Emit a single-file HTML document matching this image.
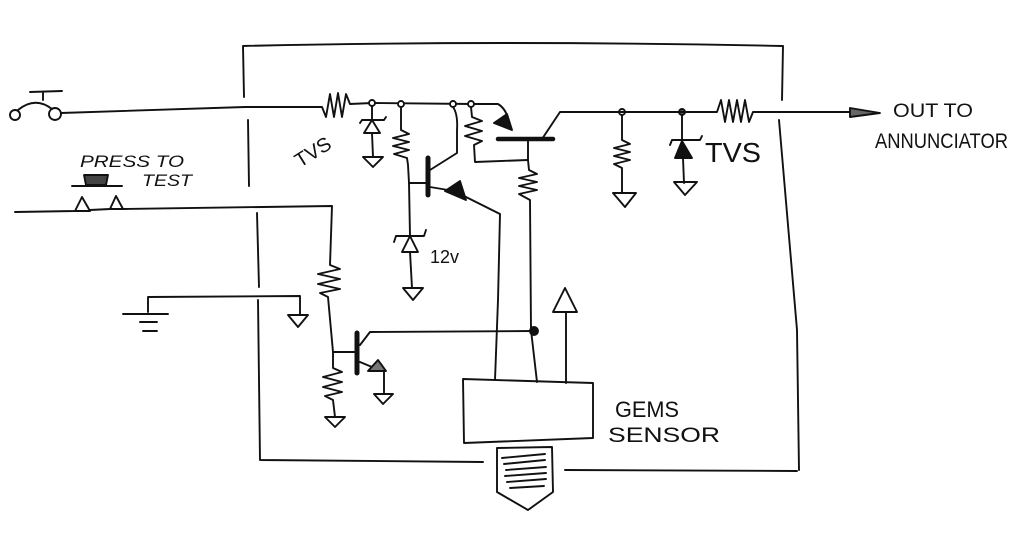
<!DOCTYPE html>
<html><head><meta charset="utf-8"><style>
html,body{margin:0;padding:0;background:#fff;}
svg{display:block;}
text{font-family:"Liberation Sans",sans-serif;fill:#111;}
</style></head><body>
<svg width="1024" height="544" viewBox="0 0 1024 544" xmlns="http://www.w3.org/2000/svg">
<g fill="none" stroke="#111" stroke-width="1.9" stroke-linecap="round" stroke-linejoin="round">
<!-- outer box -->
<path d="M244,97 L243,46 Q500,40 783,46 L782,100"/>
<path d="M248,120 L249,186"/>
<path d="M257,213 L259,287"/>
<path d="M258,300 L260,460 L483,462"/>
<path d="M779,120 Q790,250 797,330 L799,470"/>
<path d="M565,470 L797,471"/>

<!-- switch -->
<circle cx="15" cy="115" r="5"/>
<circle cx="55" cy="114" r="6"/>
<path d="M18,110 Q35,96 52,109"/>
<path d="M43,100 L43,92 M30,92 L62,91"/>

<!-- main wire + R1 -->
<path d="M61,113 L245,107 L322,107 L326,117 L330,94 L334,117 L338,93 L342,117 L346,94 L350,104 L372,103 L472,104 L498,104 Q505,108 508,118"/>
<!-- nodes -->
<circle cx="372" cy="103" r="3" fill="#fff"/>
<circle cx="401" cy="104" r="3" fill="#fff"/>
<circle cx="453" cy="104" r="3" fill="#fff"/>
<circle cx="471" cy="104" r="3" fill="#fff"/>
<circle cx="622" cy="112" r="3" fill="#fff"/>
<circle cx="682" cy="112" r="3" fill="#555"/>

<!-- TVS1 -->
<path d="M372,106 L372,120 M360,123 L362,120 L384,120 L386,117 M372,120 L364,133 L380,133 Z M372,133 L373,157"/>
<path d="M363,157 L383,157 L373,167 Z"/>

<!-- R2 + zener -->
<path d="M401,107 L401,130 L409,134 L393,138 L409,142 L393,146 L409,150 L394,154 L407,158 L408,165 L409,183 L410,236"/>
<path d="M394,242 L396,236 L424,236 L426,230 M410,236 L402,252 L418,252 Z M410,252 L412,288"/>
<path d="M403,288 L423,288 L413,300 Z"/>

<!-- Q1 -->
<path d="M453,107 Q458,114 457,130 L457,153 L430,170"/>
<path d="M428,158 L428,195" stroke-width="5"/>
<path d="M409,183 L428,183"/>
<path d="M430,187 L448,190"/>
<path d="M445,191 L460,181 L466,200 Z" fill="#111"/>
<path d="M462,195 L500,214 L498,300 L495,380"/>

<!-- R3 -->
<path d="M471,107 L472,117 L482,121 L465,126 L482,131 L465,136 L482,141 L474,145 L475,162 L528,160"/>

<!-- Q2 -->
<path d="M494,123 L507,114 L512,130 Z" fill="#111"/>
<path d="M498,139 L553,139" stroke-width="4.5"/>
<path d="M542,139 L560,112 L622,112 L717,112 L721,100 L725,122 L729,100 L733,122 L737,100 L741,122 L745,100 L749,122 L753,112 L850,112"/>
<path d="M850,108 L880,113 L850,117 Z" fill="#666"/>
<path d="M528,140 L528,160 L529,170 L537,174 L519,178 L537,182 L519,186 L537,190 L519,194 L530,200 L531,330 L537,382"/>
<circle cx="534" cy="331" r="4" fill="#111"/>

<!-- R6 -->
<path d="M622,115 L622,140 L630,144 L614,148 L630,152 L614,156 L630,160 L614,164 L622,168 L622,193"/>
<path d="M613,193 L636,193 L625,207 Z"/>

<!-- TVS2 -->
<path d="M682,115 L682,140 M670,145 L672,140 L700,140 L702,136"/>
<path d="M682,141 L675,158 L692,158 Z" fill="#111"/>
<path d="M683,158 L684,183"/>
<path d="M674,182 L697,182 L685,195 Z"/>

<!-- test wire -->
<path d="M15,212 L75,211 M75,211 L82,197 L90,211 Z M90,210 L110,209 M110,209 L116,196 L123,209 Z M123,209 L332,206 L330,265 L340,269 L318,274 L340,279 L318,284 L340,289 L320,293 L328,297 L333,352 L333,368 L342,372 L323,377 L342,382 L323,387 L342,392 L325,396 L333,400 L335,417"/>
<path d="M325,417 L345,417 L335,427 Z"/>

<!-- Q3 -->
<path d="M357,333 L357,373" stroke-width="5"/>
<path d="M333,352 L357,352"/>
<path d="M360,345 L370,332 L534,331"/>
<path d="M360,362 L372,367"/>
<path d="M368,371 L378,360 L386,371 Z" fill="#777"/>
<path d="M384,371 L384,394"/>
<path d="M374,394 L393,394 L383,404 Z"/>

<!-- ground wire -->
<path d="M148,312 L148,297 L300,296 L300,315"/>
<path d="M288,315 L308,315 L298,327 Z"/>
<path d="M123,314 L168,314 M140,322 L157,322 M143,331 L157,331"/>

<!-- sensor box -->
<path d="M463,379 L593,383 L593,438 L464,443 Z"/>
<path d="M566,383 L566,312"/>
<path d="M553,312 L565,288 L577,312 Z"/>

<!-- connector -->
<path d="M497,448 L552,447 L553,492 L528,510 L497,492 Z"/>
<path d="M502,458 L545,454 M504,464 L545,460 M506,470 L546,467 M505,476 L546,473 M507,482 L546,479 M510,488 L544,486"/>

<!-- press to test underline/button -->
<path d="M72,186 L122,186"/>
<path d="M84,175 L108,175 L106,185 L86,185 Z" fill="#444"/>
</g>

<!-- labels -->
<text x="80" y="167" font-size="17" font-style="italic" textLength="104" lengthAdjust="spacingAndGlyphs">PRESS TO</text>
<text x="142" y="186" font-size="17" font-style="italic" textLength="50" lengthAdjust="spacingAndGlyphs">TEST</text>
<text x="0" y="0" font-size="20" transform="translate(300,168) rotate(-32)">TVS</text>
<text x="430" y="263" font-size="18">12v</text>
<text x="705" y="162" font-size="28" textLength="56" lengthAdjust="spacingAndGlyphs">TVS</text>
<text x="893" y="117" font-size="19" textLength="80" lengthAdjust="spacingAndGlyphs">OUT TO</text>
<text x="875" y="148" font-size="21" textLength="133" lengthAdjust="spacingAndGlyphs">ANNUNCIATOR</text>
<text x="615" y="417" font-size="22" textLength="64" lengthAdjust="spacingAndGlyphs">GEMS</text>
<text x="608" y="442" font-size="21" textLength="112" lengthAdjust="spacingAndGlyphs">SENSOR</text>
</svg>
</body></html>
